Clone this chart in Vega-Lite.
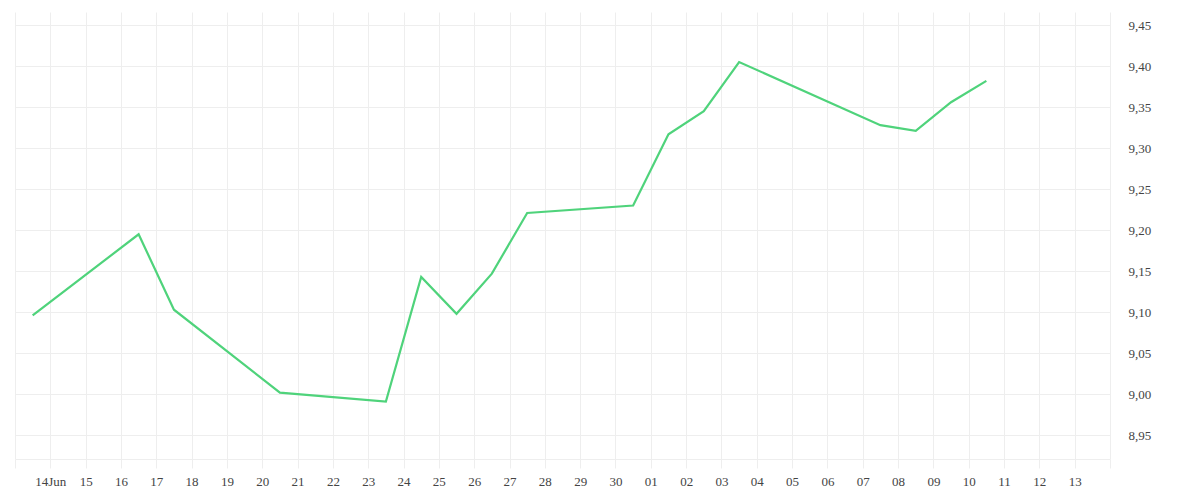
{
  "$schema": "https://vega.github.io/schema/vega-lite/v6.json",
  "width": 1095,
  "height": 447,
  "autosize": "none",
  "padding": {"left": 15, "top": 12, "right": 90, "bottom": 41},
  "background": "white",
  "config": {
    "view": {"stroke": null},
    "font": "Liberation Serif",
    "axis": {
      "labelFont": "Liberation Serif",
      "labelFontSize": 13,
      "labelColor": "#444444",
      "gridColor": "#eeeeee",
      "gridWidth": 1,
      "title": null
    }
  },
  "data": {
    "values": [
      {"date": "2024-06-13T12:00:00", "price": 9.096},
      {"date": "2024-06-16T12:00:00", "price": 9.195},
      {"date": "2024-06-17T12:00:00", "price": 9.103},
      {"date": "2024-06-20T12:00:00", "price": 9.002},
      {"date": "2024-06-23T12:00:00", "price": 8.991},
      {"date": "2024-06-24T12:00:00", "price": 9.143},
      {"date": "2024-06-25T12:00:00", "price": 9.098},
      {"date": "2024-06-26T12:00:00", "price": 9.147},
      {"date": "2024-06-27T12:00:00", "price": 9.221},
      {"date": "2024-06-30T12:00:00", "price": 9.230},
      {"date": "2024-07-01T12:00:00", "price": 9.317},
      {"date": "2024-07-02T12:00:00", "price": 9.345},
      {"date": "2024-07-03T12:00:00", "price": 9.405},
      {"date": "2024-07-07T12:00:00", "price": 9.328},
      {"date": "2024-07-08T12:00:00", "price": 9.321},
      {"date": "2024-07-09T12:00:00", "price": 9.356},
      {"date": "2024-07-10T12:00:00", "price": 9.382}
    ]
  },
  "mark": {"type": "line", "color": "#4fd37b", "strokeWidth": 2.2, "interpolate": "linear"},
  "encoding": {
    "x": {
      "field": "date",
      "type": "temporal",
      "scale": {
        "domain": [
          {"year": 2024, "month": 6, "date": 13},
          {"year": 2024, "month": 7, "date": 14}
        ],
        "nice": false
      },
      "axis": {
        "tickCount": {"interval": "day", "step": 1},
        "grid": true,
        "domainColor": "#eeeeee",
        "tickColor": "#eeeeee",
        "tickSize": 9,
        "labelPadding": 7,
        "labelFlush": false,
        "labelOverlap": false,
        "labelExpr": "(month(datum.value) == 5 && date(datum.value) == 13) || (month(datum.value) == 6 && date(datum.value) == 14) ? '' : (month(datum.value) == 5 && date(datum.value) == 14 ? '14Jun' : timeFormat(datum.value, '%d'))"
      }
    },
    "y": {
      "field": "price",
      "type": "quantitative",
      "scale": {"domain": [8.921, 9.466], "nice": false, "zero": false},
      "axis": {
        "orient": "right",
        "values": [8.95, 9.0, 9.05, 9.1, 9.15, 9.2, 9.25, 9.3, 9.35, 9.4, 9.45],
        "grid": true,
        "domain": false,
        "ticks": false,
        "labelPadding": 18,
        "labelAlign": "left",
        "labelExpr": "replace(format(datum.value, '.2f'), '.', ',')"
      }
    }
  }
}
